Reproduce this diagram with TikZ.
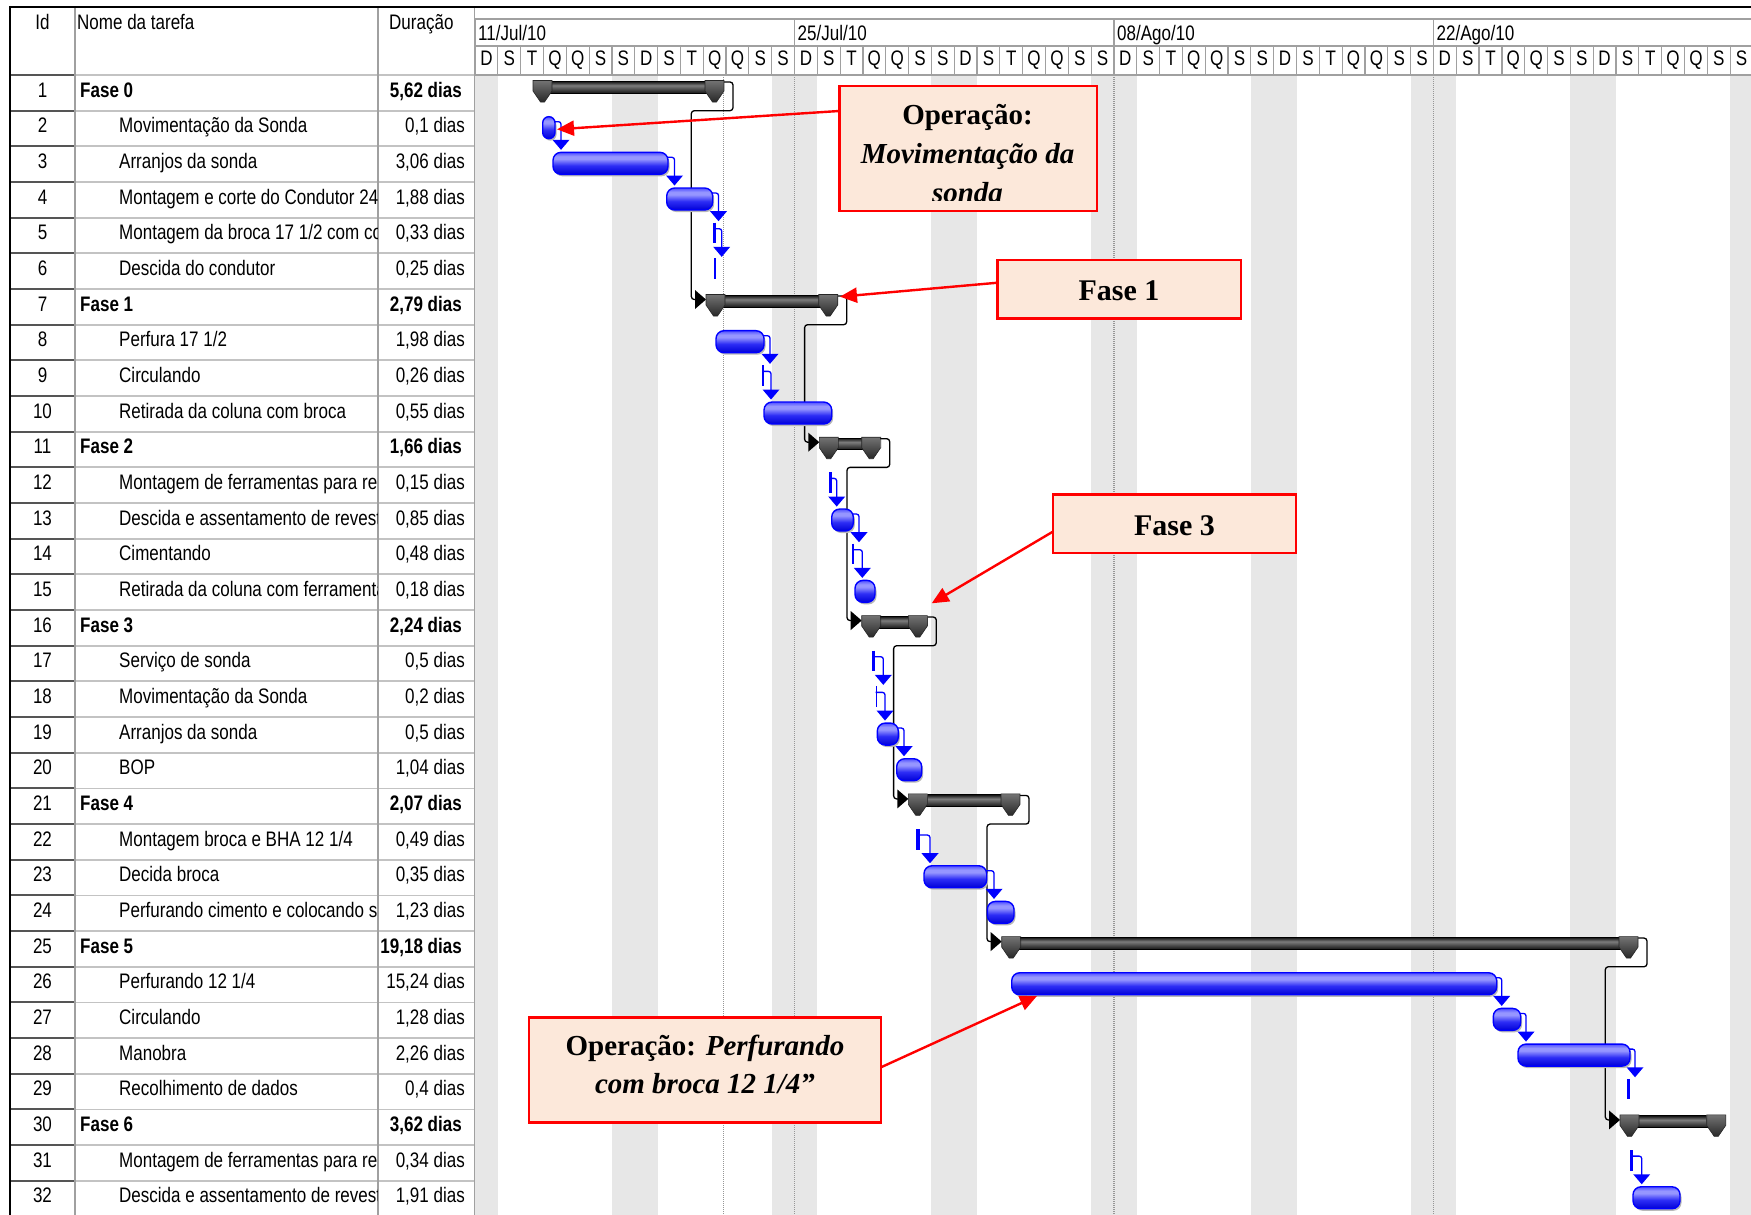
\documentclass[tikz,border=0pt]{standalone}
\usepackage{fontspec}
\usetikzlibrary{arrows.meta,calc}

\newfontfamily\gridfont[FakeStretch=0.81]{Liberation Sans}
\newfontfamily\notefont{Liberation Serif}

\definecolor{gridgray}{RGB}{160,160,160}
\definecolor{rowgray}{RGB}{195,195,195}
\definecolor{iddark}{RGB}{85,85,85}
\definecolor{weekend}{RGB}{231,231,231}
\definecolor{nowline}{RGB}{150,150,150}
\definecolor{taskblue}{RGB}{0,0,255}
\definecolor{tbA}{RGB}{0,0,215}
\definecolor{tbB}{RGB}{45,45,245}
\definecolor{tbC}{RGB}{150,150,255}
\definecolor{tbD}{RGB}{80,80,255}
\definecolor{sbA}{RGB}{25,25,25}
\definecolor{sbB}{RGB}{85,85,85}
\definecolor{sbC}{RGB}{125,125,125}
\definecolor{scA}{RGB}{40,40,40}
\definecolor{scB}{RGB}{115,115,115}
\definecolor{notefill}{RGB}{252,232,218}
\definecolor{notered}{RGB}{255,0,0}

\pgfdeclareverticalshading{taskfill}{100bp}{color(0bp)=(tbA); color(25bp)=(tbA); color(45bp)=(tbB); color(60bp)=(tbC); color(66bp)=(tbC); color(75bp)=(tbD); color(100bp)=(tbD)}
\pgfdeclareverticalshading{sumbody}{100bp}{color(0bp)=(sbA); color(25bp)=(sbA); color(45bp)=(sbB); color(58bp)=(sbC); color(75bp)=(sbA); color(100bp)=(sbA)}
\pgfdeclareverticalshading{sumcap}{100bp}{color(0bp)=(scA); color(25bp)=(scA); color(75bp)=(scB); color(100bp)=(scB)}

% task bar: row, start x, end x
\newcommand\taskbar[3]{%
  \pgfmathsetmacro\tby{75+(#1-1)*35.67}%
  \pgfmathsetmacro\tbr{min(8,(#3-#2)/2)}%
  \fill[black!28, rounded corners=\tbr pt] (#2+1.5,\tby+8.5) rectangle (#3+1.5,\tby+30);
  \shadedraw[shading=taskfill, draw=taskblue, line width=1.4pt, rounded corners=\tbr pt] (#2,\tby+6) rectangle (#3,\tby+28);
}
% very short task: row, x, stroke width
\newcommand\thintask[3]{%
  \pgfmathsetmacro\tty{75+(#1-1)*35.67}%
  \draw[taskblue, line width=#3] (#2,\tty+5) -- (#2,\tty+25.5);
}
% finish-to-start link between tasks: predecessor row, leaving x, arrow x
\newcommand\tasklink[3]{%
  \pgfmathsetmacro\lya{75+(#1-1)*35.67+11}%
  \pgfmathsetmacro\lyb{75+#1*35.67+3.5}%
  \draw[taskblue, line width=1.3pt, rounded corners=2.5pt] (#2-1,\lya) -- (#3,\lya) -- (#3,\lyb-9);
  \fill[taskblue] (#3-8.5,\lyb-10) -- (#3+8.5,\lyb-10) -- (#3,\lyb) -- cycle;
}
% summary bar: row, start x, end x
\newcommand\sumbar[3]{%
  \pgfmathsetmacro\sby{75+(#1-1)*35.67}%
  \shadedraw[shading=sumbody, draw=black, line width=0.9pt] (#2+6,\sby+6.5) rectangle (#3-6,\sby+18);
  \foreach \cx in {#2,#3-19}{%
    \shadedraw[shading=sumcap, draw=black!85, line width=0.6pt] (\cx,\sby+5.5) -- (\cx+19,\sby+5.5) -- (\cx+19,\sby+16) -- (\cx+11.5,\sby+27) -- (\cx+7.5,\sby+27) -- (\cx,\sby+16) -- cycle;
  }
}
% link between summary bars: predecessor row, its end x, successor row, its start x
\newcommand\sumlink[4]{%
  \pgfmathsetmacro\sla{75+(#1-1)*35.67+7}%
  \pgfmathsetmacro\slb{75+#1*35.67}%
  \pgfmathsetmacro\slc{75+(#3-1)*35.67+10.5}%
  \draw[black, line width=1.3pt, rounded corners=3pt] (#2-1,\sla) -- (#2+9,\sla) -- (#2+9,\slb) -- (#4-14.7,\slb) -- (#4-14.7,\slc) -- (#4-10,\slc);
  \fill[black] (#4-11,\slc-9.5) -- (#4,\slc) -- (#4-11,\slc+9.5) -- cycle;
}

\begin{document}
\begin{tikzpicture}[x=1pt,y=-1pt,
  gtxt/.style={inner sep=0pt, font=\gridfont\fontsize{21}{25}\selectfont},
  note/.style={draw=notered, line width=2.4pt, fill=notefill, inner sep=0pt, outer sep=0pt},
  ntxt/.style={anchor=base, inner sep=0pt, font=\notefont\bfseries\fontsize{29}{38}\selectfont},
  callarrow/.style={notered, line width=2.4pt, -{Triangle[length=17pt,width=15pt]}}]
\useasboundingbox (0,0) rectangle (1751,1215);
\clip (0,0) rectangle (1751,1215);
\fill[white] (0,0) rectangle (1751,1215);

% weekends in the time scale
\foreach \d in {0,6,7,13,14,20,21,27,28,34,35,41,42,48,49,55}
  \fill[weekend] ({475+\d*22.82},75) rectangle ({475+(\d+1)*22.82},1215);
% status date and week boundaries
\foreach \vx in {723.5,794.5,1114,1433.4}
  \draw[nowline, line width=1.1pt, dash pattern=on 1pt off 1pt] (\vx,75) -- (\vx,1215);

% time scale header
\draw[gridgray, line width=1.2pt] (475,19) -- (1751,19) (475,46) -- (1751,46) (474,75) -- (1751,75);
\foreach \k in {0,...,56}
  \draw[gridgray, line width=1.2pt] ({475+\k*22.82},46) -- ({475+\k*22.82},75);
\foreach \k in {0,14,28,42,56}
  \draw[gridgray, line width=1.2pt] ({475+\k*22.82},19) -- ({475+\k*22.82},46);
\foreach \k in {0,...,55}{
  \pgfmathparse{{"D","S","T","Q","Q","S","S"}[mod(\k,7)]}
  \let\dl\pgfmathresult
  \node[gtxt, anchor=base] (day\k) at ({475+(\k+0.5)*22.82},65.5) {\dl};
}
\node[gtxt, anchor=base west] (wk1) at (478,40.5) {11/Jul/10};
\node[gtxt, anchor=base west] (wk2) at (797.5,40.5) {25/Jul/10};
\node[gtxt, anchor=base west] (wk3) at (1117,40.5) {08/Ago/10};
\node[gtxt, anchor=base west] (wk4) at (1436.5,40.5) {22/Ago/10};

% task table grid
\foreach \k in {0,...,32}{
  \pgfmathsetmacro\hy{75+\k*35.67}
  \draw[iddark, line width=2pt] (10,\hy) -- (75,\hy);
  \draw[rowgray, line width=1.8pt] (75,\hy) -- (474,\hy);
}
\draw[gridgray, line width=1.6pt] (75,7) -- (75,1215) (378,7) -- (378,1215) (474.5,7) -- (474.5,1215);
\draw[black, line width=2.2pt] (10,6) -- (10,1215);
\draw[black, line width=2.2pt] (9,7) -- (1751,7);

% column titles
\node[gtxt, anchor=base] (hid) at (42.5,30) {Id};
\node[gtxt, anchor=base west] (hname) at (77,30) {Nome da tarefa};
\node[gtxt, anchor=base west] (hdur) at (389,30) {Duração};

% task names, clipped to their column
\begin{scope}
\clip (75,75) rectangle (377,1215);
\foreach \r/\nm/\k in {
 1/{Fase 0}/1,
 2/{Movimentação da Sonda}/0,
 3/{Arranjos da sonda}/0,
 4/{Montagem e corte do Condutor 24}/0,
 5/{Montagem da broca 17 1/2 com co}/0,
 6/{Descida do condutor}/0,
 7/{Fase 1}/1,
 8/{Perfura 17 1/2}/0,
 9/{Circulando}/0,
 10/{Retirada da coluna com broca}/0,
 11/{Fase 2}/1,
 12/{Montagem de ferramentas para re}/0,
 13/{Descida e assentamento de revest}/0,
 14/{Cimentando}/0,
 15/{Retirada da coluna com ferramenta}/0,
 16/{Fase 3}/1,
 17/{Serviço de sonda}/0,
 18/{Movimentação da Sonda}/0,
 19/{Arranjos da sonda}/0,
 20/{BOP}/0,
 21/{Fase 4}/1,
 22/{Montagem broca e BHA 12 1/4}/0,
 23/{Decida broca}/0,
 24/{Perfurando cimento e colocando s}/0,
 25/{Fase 5}/1,
 26/{Perfurando 12 1/4}/0,
 27/{Circulando}/0,
 28/{Manobra}/0,
 29/{Recolhimento de dados}/0,
 30/{Fase 6}/1,
 31/{Montagem de ferramentas para re}/0,
 32/{Descida e assentamento de revest}/0}{
  \pgfmathsetmacro\by{75+(\r-1)*35.67+22}
  \ifnum\k=1
    \node[gtxt, anchor=base west] (nm\r) at (80,\by) {\bfseries\nm};
  \else
    \node[gtxt, anchor=base west] (nm\r) at (119,\by) {\nm};
  \fi
}
\end{scope}
% ids and durations
\foreach \r/\du/\k in {1/{5,62 dias}/1, 2/{0,1 dias}/0, 3/{3,06 dias}/0, 4/{1,88 dias}/0,
 5/{0,33 dias}/0, 6/{0,25 dias}/0, 7/{2,79 dias}/1, 8/{1,98 dias}/0, 9/{0,26 dias}/0,
 10/{0,55 dias}/0, 11/{1,66 dias}/1, 12/{0,15 dias}/0, 13/{0,85 dias}/0, 14/{0,48 dias}/0,
 15/{0,18 dias}/0, 16/{2,24 dias}/1, 17/{0,5 dias}/0, 18/{0,2 dias}/0, 19/{0,5 dias}/0,
 20/{1,04 dias}/0, 21/{2,07 dias}/1, 22/{0,49 dias}/0, 23/{0,35 dias}/0, 24/{1,23 dias}/0,
 25/{19,18 dias}/1, 26/{15,24 dias}/0, 27/{1,28 dias}/0, 28/{2,26 dias}/0, 29/{0,4 dias}/0,
 30/{3,62 dias}/1, 31/{0,34 dias}/0, 32/{1,91 dias}/0}{
  \pgfmathsetmacro\by{75+(\r-1)*35.67+22}
  \node[gtxt, anchor=base] (id\r) at (42.5,\by) {\r};
  \ifnum\k=1
    \node[gtxt, anchor=base east] (du\r) at (462,\by) {\bfseries\du};
  \else
    \node[gtxt, anchor=base east] (du\r) at (465,\by) {\du};
  \fi
}

% summary bars and their links
\sumlink{1}{724}{7}{706}
\sumlink{7}{837.7}{11}{819.3}
\sumlink{11}{880.7}{16}{861.7}
\sumlink{16}{927.3}{21}{908.3}
\sumlink{21}{1020}{25}{1001.7}
\sumlink{25}{1638}{30}{1620}
\sumbar{1}{533}{724}
\sumbar{7}{706}{837.7}
\sumbar{11}{819.3}{880.7}
\sumbar{16}{861.7}{927.3}
\sumbar{21}{908.3}{1020}
\sumbar{25}{1001.7}{1638}
\sumbar{30}{1620}{1725.7}

% task bars
\taskbar{2}{542.7}{555}
\taskbar{3}{553}{668}
\taskbar{4}{666.7}{712.7}
\thintask{5}{714}{3pt}
\thintask{6}{715}{1.5pt}
\taskbar{8}{716}{764}
\thintask{9}{763.3}{2pt}
\taskbar{10}{764}{831.7}
\thintask{12}{830}{3pt}
\taskbar{13}{831.7}{853.3}
\thintask{14}{853.3}{2pt}
\taskbar{15}{855}{875}
\thintask{17}{873.3}{3pt}
\thintask{18}{876.7}{1.5pt}
\taskbar{19}{877.3}{898.3}
\taskbar{20}{896.7}{921.7}
\thintask{22}{918.3}{4pt}
\taskbar{23}{924}{986.7}
\taskbar{24}{987.3}{1014}
\taskbar{26}{1011.7}{1496.7}
\taskbar{27}{1493.3}{1520.7}
\taskbar{28}{1518}{1630}
\thintask{29}{1628.3}{3pt}
\thintask{31}{1631.7}{3pt}
\taskbar{32}{1633}{1680}

% links between tasks
\tasklink{2}{555}{561}
\tasklink{3}{668}{674.5}
\tasklink{4}{712.7}{718.5}
\tasklink{5}{714}{721.7}
\tasklink{8}{764}{770}
\tasklink{9}{763.3}{771}
\tasklink{12}{830}{836.7}
\tasklink{13}{853.3}{859}
\tasklink{14}{853.3}{862.3}
\tasklink{17}{873.3}{883.3}
\tasklink{18}{876.7}{885}
\tasklink{19}{898.3}{904}
\tasklink{22}{918.3}{930}
\tasklink{23}{986.7}{994}
\tasklink{26}{1496.7}{1501.7}
\tasklink{27}{1520.7}{1526}
\tasklink{28}{1630}{1635}
\tasklink{31}{1631.7}{1641.7}

% callouts
\coordinate (t1) at (557,129.3);
\coordinate (t2) at (840,296.7);
\coordinate (t3) at (931.7,603.3);
\coordinate (t4) at (1037,996);

\node[note, minimum width=257.4, minimum height=124.7] (c1) at (968,148.4) {};
\begin{scope}
\clip (840,87) rectangle (1096,200.5);
\node[ntxt] (c1a) at (967.5,124.5) {Operação:};
\node[ntxt] (c1b) at (967.5,163.3) {\itshape Movimentação da};
\node[ntxt] (c1c) at (967.5,202) {\itshape sonda};
\end{scope}

\node[note, minimum width=243.7, minimum height=58.1] (c2) at (1119.2,289.3) {};
\node[ntxt, font=\notefont\bfseries\fontsize{30}{38}\selectfont] (c2a) at (1119,300.5) {Fase 1};

\node[note, minimum width=243, minimum height=58.2] (c3) at (1174.5,523.6) {};
\node[ntxt, font=\notefont\bfseries\fontsize{30}{38}\selectfont] (c3a) at (1174.5,535) {Fase 3};

\node[note, minimum width=352, minimum height=105.2] (c4) at (705,1069.9) {};
\node[ntxt] (c4a) at (705,1055) {Operação: \itshape Perfurando};
\node[ntxt] (c4b) at (705,1093) {\itshape com broca 12 1/4”};

\draw[callarrow] ($(c1.north west)!0.2!(c1.south west)$) -- (t1);
\draw[callarrow] ($(c2.north west)!0.387!(c2.south west)$) -- (t2);
\draw[callarrow] ($(c3.north west)!0.637!(c3.south west)$) -- (t3);
\draw[callarrow] ($(c4.north east)!0.475!(c4.south east)$) -- (t4);
\end{tikzpicture}
\end{document}
